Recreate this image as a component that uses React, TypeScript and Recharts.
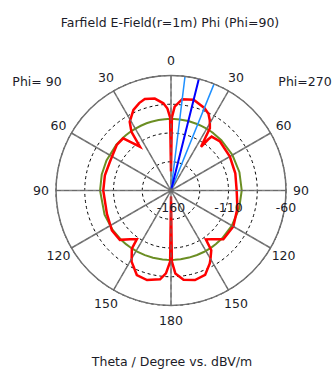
import React from 'react';
import { RadarChart, Radar, PolarGrid, PolarAngleAxis, PolarRadiusAxis } from 'recharts';

// theta in chart order (clockwise from top): 0..180 on the Phi=270 side, 180..360 on the Phi=90 side
const thetas = [
  0, 0.7, 2.5, 7, 14, 22, 26, 29, 32, 34.5, 36, 37, 45, 60, 75, 90, 105, 120, 133, 140, 144.5, 146, 150, 152, 158, 165, 172, 177, 179.3, 180,
  180.7, 183.5, 187, 195, 202, 209, 214, 215, 220, 226, 236, 250, 270, 283, 295, 310, 317.5, 320.7, 324.7, 326, 329, 335, 340, 344, 350, 355, 357.5, 359.3,
];

const redValues = [
  -143.5, -96.5, -87.0, -80.0, -78.7, -82.6, -85.7, -90.4, -96.2, -113.9, -105.2, -101.3, -99.8, -100.9, -102.1, -102.9, -100.2, -97.4, -97.8, -104.6, -107.8, -97.4, -91.3, -88.2, -80.8, -79.4, -81.7, -87.8, -98.1, -154.8,
  -98.1, -87.8, -82.2, -79.4, -80.7, -89.3, -99.1, -108.2, -104.6, -98.2, -98.0, -100.7, -101.1, -101.0, -101.3, -98.4, -98.5, -106.1, -113.3, -98.5, -90.3, -82.7, -79.1, -77.3, -78.8, -83.9, -88.7, -96.5,
];

const greenValues = [
  -97.8, -97.8, -97.8, -97.8, -97.8, -97.9, -97.9, -98.0, -98.0, -98.0, -98.0, -98.1, -98.1, -98.3, -98.4, -98.5, -98.7, -98.9, -99.1, -99.2, -99.3, -99.3, -99.4, -99.4, -99.5, -99.6, -99.6, -99.6, -99.6, -99.6,
  -99.6, -99.6, -99.6, -99.5, -99.4, -99.3, -99.2, -99.2, -99.1, -99.0, -98.8, -98.5, -98.3, -98.2, -98.1, -98.0, -98.0, -98.0, -97.9, -97.9, -97.9, -97.9, -97.8, -97.8, -97.8, -97.8, -97.8, -97.8,
];

const mainLobeDirection = [14];
const beamWidthEdges = [7, 22];

const angleTicks = [0, 30, 60, 90, 120, 150, 180, 210, 240, 270, 300, 330];
const radiusDomain = [-160, -60];
const radiusLabels = [-160, -110, -60];

const title = 'Farfield E-Field(r=1m) Phi (Phi=90)';
const leftSideLabel = 'Phi= 90';
const rightSideLabel = 'Phi=270';
const axisTitle = 'Theta / Degree vs. dBV/m';

const data = thetas.map((theta, i) => ({
  theta,
  red: redValues[i],
  green: greenValues[i],
  edge: beamWidthEdges.includes(theta) ? radiusDomain[1] : radiusDomain[0],
  main: mainLobeDirection.includes(theta) ? radiusDomain[1] : radiusDomain[0],
}));

const CX = 171;
const CY = 190.5;
const R = 115;
const LABEL_R = 130;

const FONT = '"DejaVu Sans", Verdana, sans-serif';
const TEXT = '#1c1c28';

// rings: short black dashes; grid spokes (the 0/90/180/270 cross) solid grey;
// angle-axis tick lines, drawn inward to the centre, are the dashed grey spokes
const gridCss = `
body { margin: 0; }
.recharts-polar-grid-concentric circle { stroke: #000; stroke-dasharray: 3 3; stroke-width: 1; }
.recharts-polar-grid-angle line { stroke: #808080; stroke-dasharray: none; stroke-width: 1.5; }
.recharts-polar-angle-axis line { stroke: #6a6a6a !important; stroke-dasharray: 5 3 !important; stroke-width: 1 !important; }
`;

const AngleTick = (props: any) => {
  const { payload } = props;
  const v = payload.value;
  const label = v <= 180 ? v : 360 - v;
  const a = (payload.coordinate * Math.PI) / 180;
  return (
    <text
      x={CX + LABEL_R * Math.cos(a)}
      y={CY - LABEL_R * Math.sin(a)}
      textAnchor="middle"
      dominantBaseline="central"
      fontSize={12.5}
      fontFamily={FONT}
      fill={TEXT}
    >
      {label}
    </text>
  );
};

const RadiusTick = (props: any) => {
  const { x, y, payload } = props;
  if (!radiusLabels.includes(payload.value)) return null;
  return (
    <text x={x} y={y + 17} textAnchor="middle" dominantBaseline="central" fontSize={12.5} fontFamily={FONT} fill={TEXT}>
      {payload.value}
    </text>
  );
};

const textStyle = (left: number, top: number): React.CSSProperties => ({
  position: 'absolute',
  left,
  top,
  transform: 'translate(-50%, -50%)',
  whiteSpace: 'nowrap',
  fontFamily: FONT,
  fontSize: 12.5,
  color: TEXT,
});

export default function App() {
  return (
    <div style={{ position: 'relative', width: 335, height: 372, background: '#fff' }}>
      <style>{gridCss}</style>
      <RadarChart width={335} height={372} data={data} cx={CX} cy={CY} outerRadius={R} margin={{ top: 0, right: 0, bottom: 0, left: 0 }}>
        <PolarGrid gridType="circle" stroke="#000" />
        <PolarAngleAxis
          dataKey="theta"
          type="number"
          domain={[0, 360]}
          ticks={angleTicks}
          orientation="inner"
          tickSize={R}
          tickLine={{ stroke: '#6a6a6a', strokeDasharray: '5 3', strokeWidth: 1 }}
          axisLineType="circle"
          axisLine={{ stroke: '#707070', strokeWidth: 1.5 }}
          tick={AngleTick}
        />
        <PolarRadiusAxis
          angle={0}
          domain={radiusDomain}
          tickCount={5}
          axisLine={false}
          tickLine={false}
          tick={RadiusTick}
        />
        <Radar dataKey="green" stroke="#6B8E23" strokeWidth={2} fill="none" fillOpacity={0} dot={false} isAnimationActive={false} />
        <Radar dataKey="red" stroke="#ff0000" strokeWidth={2.5} fill="none" fillOpacity={0} dot={false} isAnimationActive={false} />
        <Radar dataKey="edge" stroke="#1E90FF" strokeWidth={1.5} fill="none" fillOpacity={0} dot={false} isAnimationActive={false} />
        <Radar dataKey="main" stroke="#0000ff" strokeWidth={2} fill="none" fillOpacity={0} dot={false} isAnimationActive={false} />
      </RadarChart>
      <div style={textStyle(170, 22)}>{title}</div>
      <div style={textStyle(37, 81)}>{leftSideLabel}</div>
      <div style={textStyle(305, 81)}>{rightSideLabel}</div>
      <div style={textStyle(172, 361)}>{axisTitle}</div>
    </div>
  );
}
